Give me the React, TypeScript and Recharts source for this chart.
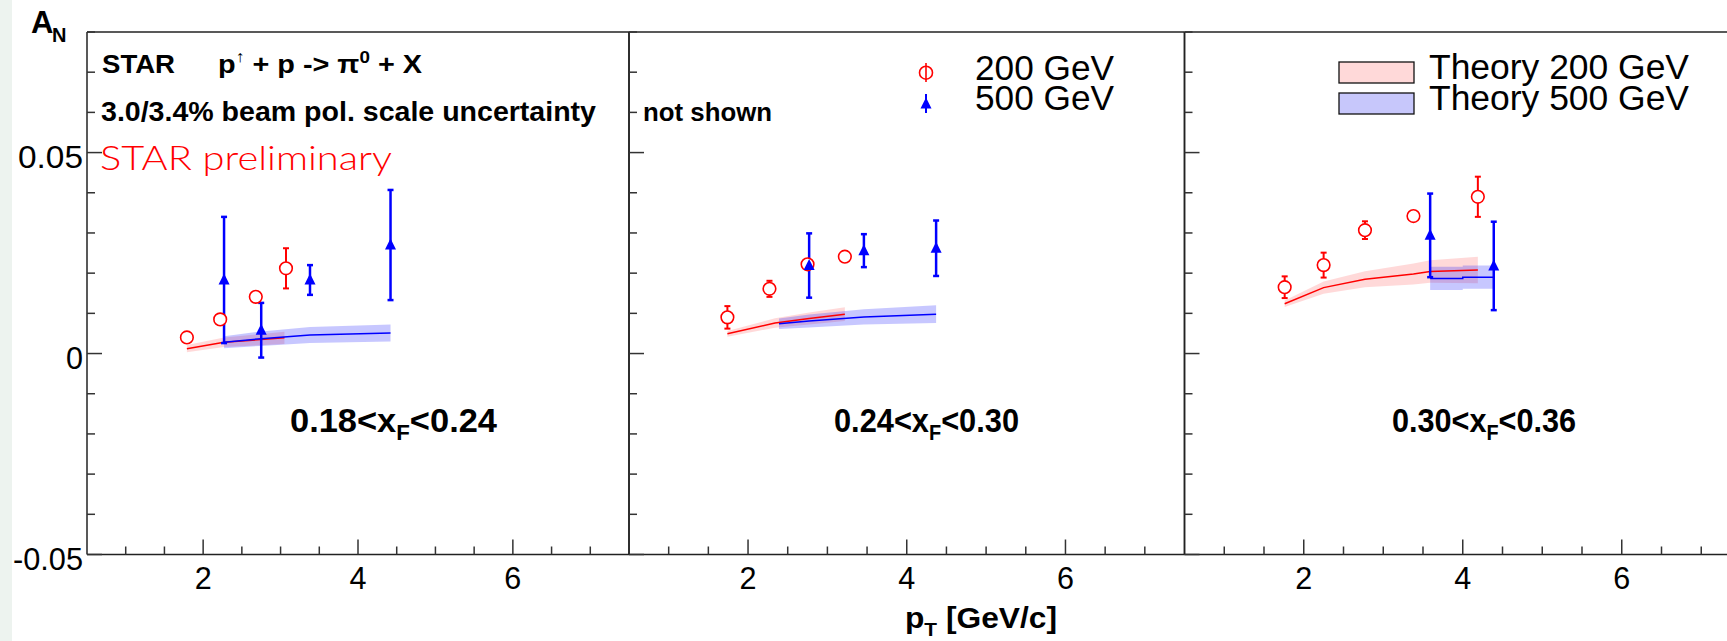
import React from 'react';
import {
  ComposedChart,
  Area,
  Line,
  Scatter,
  ErrorBar,
  XAxis,
  YAxis,
  ReferenceLine,
} from 'recharts';

const FONT = "'Liberation Sans', Arial, Helvetica, sans-serif";
const RED = '#ff0000';
const BLUE = '#0000ff';

// axis ticks
const X_TICKS = [1, 1.5, 2, 2.5, 3, 3.5, 4, 4.5, 5, 5.5, 6, 6.5, 7];
const X_LABELS = [2, 4, 6];
const Y_TICKS = [-0.05, -0.04, -0.03, -0.02, -0.01, 0, 0.01, 0.02, 0.03, 0.04, 0.05, 0.06, 0.07, 0.08];
const Y_LABELS = [-0.05, 0, 0.05];

// 0.18 < xF < 0.24
const P1_200_PT = [1.79, 2.22, 2.68, 3.07];
const P1_200_AN = [0.004, 0.0085, 0.0141, 0.0212];
const P1_200_ERR = [0.001, 0.001, 0.001, 0.005];
const P1_500_PT = [2.27, 2.75, 3.38, 4.42];
const P1_500_AN = [0.0183, 0.0058, 0.0183, 0.027];
const P1_500_ERR = [0.0157, 0.0068, 0.0037, 0.0137];
const P1_TH200_PT = [1.79, 2.27, 3.05];
const P1_TH200_AN = [0.0012, 0.0028, 0.0039];
const P1_TH200_BAND = [0.0009, 0.0012, 0.0015];
const P1_TH500_PT = [2.27, 2.75, 3.38, 4.42];
const P1_TH500_AN = [0.0028, 0.0037, 0.0046, 0.0051];
const P1_TH500_BAND = [0.0015, 0.0018, 0.002, 0.0021];

// 0.24 < xF < 0.30
const P2_200_PT = [1.74, 2.27, 2.75, 3.22];
const P2_200_AN = [0.009, 0.0161, 0.0222, 0.0241];
const P2_200_ERR = [0.0028, 0.002, 0.001, 0.001];
const P2_500_PT = [2.77, 3.46, 4.37];
const P2_500_AN = [0.0219, 0.0256, 0.0262];
const P2_500_ERR = [0.008, 0.0041, 0.0069];
const P2_TH200_PT = [1.74, 2.34, 2.77, 3.22];
const P2_TH200_AN = [0.0049, 0.0076, 0.0087, 0.0098];
const P2_TH200_BAND = [0.0007, 0.0012, 0.0015, 0.0017];
const P2_TH500_PT = [2.39, 2.77, 3.46, 4.37];
const P2_TH500_AN = [0.0074, 0.0081, 0.0091, 0.0098];
const P2_TH500_BAND = [0.0013, 0.0016, 0.0019, 0.0022];

// 0.30 < xF < 0.36
const P3_200_PT = [1.76, 2.25, 2.77, 3.38, 4.19];
const P3_200_AN = [0.0165, 0.022, 0.0307, 0.0342, 0.039];
const P3_200_ERR = [0.0027, 0.0031, 0.0022, 0.001, 0.005];
const P3_500_PT = [3.59, 4.39];
const P3_500_AN = [0.0294, 0.0218];
const P3_500_ERR = [0.0104, 0.011];
const P3_TH200_PT = [1.76, 2.25, 2.77, 3.38, 3.59, 4.19];
const P3_TH200_AN = [0.0124, 0.0164, 0.0185, 0.0198, 0.0204, 0.0208];
const P3_TH200_BAND = [0.0008, 0.0015, 0.002, 0.0026, 0.0028, 0.0033];
const P3_TH500_PT = [3.59, 4.0, 4.39];
const P3_TH500_AN = [0.0187, 0.019, 0.019];
const P3_TH500_BAND = [0.0029, 0.0029, 0.0029];

const points = (pt: number[], an: number[], err: number[]) =>
  pt.map((x, i) => ({ x, y: an[i], err: err[i] }));
const theory = (pt: number[], an: number[], half: number[]) =>
  pt.map((x, i) => ({ x, y: an[i], band: [an[i] - half[i], an[i] + half[i]] }));

const near = (list: number[], v: number) => list.some((m) => Math.abs(m - v) < 1e-6);

const XTick = (props: any) => {
  const { x, y, payload } = props;
  const major = near(X_LABELS, payload.value);
  return (
    <g>
      <line x1={x} x2={x} y1={y} y2={y - (major ? 15 : 8)} stroke="#333" strokeWidth={1.5} />
      {major && (
        <text
          x={x}
          y={y + 34}
          textAnchor="middle"
          fontSize={32}
          fontFamily={FONT}
          fill="#000"
          textLength={17}
          lengthAdjust="spacingAndGlyphs"
        >
          {payload.value}
        </text>
      )}
    </g>
  );
};

const makeYTick = (showLabels: boolean) => (props: any) => {
  const { x, y, payload } = props;
  const v = payload.value;
  const major = near(Y_LABELS, v);
  const label = Math.abs(v) < 1e-9 ? '0' : v.toFixed(2);
  const len = label === '0' ? 17 : label.startsWith('-') ? 70 : 65;
  return (
    <g>
      <line x1={x} x2={x + (major ? 15 : 8)} y1={y} y2={y} stroke="#333" strokeWidth={1.5} />
      {showLabels && major && (
        <text
          x={x - 4}
          y={y + 15}
          textAnchor="end"
          fontSize={32}
          fontFamily={FONT}
          fill="#000"
          textLength={len}
          lengthAdjust="spacingAndGlyphs"
        >
          {label}
        </text>
      )}
    </g>
  );
};

const OpenCircle = (p: any) => (
  <circle cx={p.cx} cy={p.cy} r={6.3} fill="#fff" stroke={RED} strokeWidth={1.6} />
);
const FullTriangle = (p: any) => (
  <polygon
    points={`${p.cx},${p.cy - 6.5} ${p.cx - 5.5},${p.cy + 4.5} ${p.cx + 5.5},${p.cy + 4.5}`}
    fill={BLUE}
  />
);

interface PanelProps {
  left: number;
  width: number;
  plotLeft: number;
  plotRight: number;
  yAxisWidth: number;
  showYLabels: boolean;
  d200: any[];
  d500: any[];
  th200: any[];
  th500: any[];
  step500?: boolean;
}

function Panel(p: PanelProps) {
  const curve500 = p.step500 ? 'stepAfter' : 'linear';
  return (
    <div style={{ position: 'absolute', left: p.left, top: 0 }}>
      <ComposedChart
        width={p.width}
        height={641}
        margin={{ top: 32, right: p.width - p.plotRight, bottom: 56.5, left: p.plotLeft - p.yAxisWidth }}
      >
        <XAxis
          type="number"
          dataKey="x"
          domain={[0.5, 7.5]}
          allowDataOverflow
          ticks={X_TICKS}
          interval={0}
          height={30}
          tickSize={0}
          tickMargin={0}
          tickLine={false}
          axisLine={{ stroke: '#222', strokeWidth: 1.5 }}
          tick={XTick}
        />
        <YAxis
          type="number"
          dataKey="y"
          domain={[-0.05, 0.08]}
          allowDataOverflow
          ticks={Y_TICKS}
          interval={0}
          width={p.yAxisWidth}
          tickSize={0}
          tickMargin={0}
          tickLine={false}
          axisLine={{ stroke: '#222', strokeWidth: 1.5 }}
          tick={makeYTick(p.showYLabels)}
        />
        <ReferenceLine y={0.08} stroke="#222" strokeWidth={1.5} />
        <ReferenceLine x={7.5} stroke="#222" strokeWidth={1.5} />

        <Area
          data={p.th200}
          dataKey="band"
          type="linear"
          stroke="none"
          fill={RED}
          fillOpacity={0.15}
          isAnimationActive={false}
        />
        <Area
          data={p.th500}
          dataKey="band"
          type={curve500}
          stroke="none"
          fill={BLUE}
          fillOpacity={0.22}
          isAnimationActive={false}
        />
        <Line
          data={p.th200}
          dataKey="y"
          type="linear"
          stroke={RED}
          strokeWidth={1.5}
          dot={false}
          isAnimationActive={false}
        />
        <Line
          data={p.th500}
          dataKey="y"
          type={curve500}
          stroke={BLUE}
          strokeWidth={1.5}
          dot={false}
          isAnimationActive={false}
        />

        <Scatter data={p.d200} dataKey="y" shape={OpenCircle} isAnimationActive={false}>
          <ErrorBar dataKey="err" direction="y" width={3} strokeWidth={2} stroke={RED} />
        </Scatter>
        <Scatter data={p.d500} dataKey="y" shape={FullTriangle} isAnimationActive={false}>
          <ErrorBar dataKey="err" direction="y" width={3} strokeWidth={2.5} stroke={BLUE} />
        </Scatter>
      </ComposedChart>
    </div>
  );
}

function BinLabel({ x, lo, hi, width }: { x: number; lo: string; hi: string; width: number }) {
  return (
    <text
      x={x}
      y={432}
      fontSize={34}
      fontWeight="bold"
      fontFamily={FONT}
      textLength={width}
      lengthAdjust="spacingAndGlyphs"
    >
      {lo}&lt;x
      <tspan dy={8} fontSize={22}>F</tspan>
      <tspan dy={-8}>&lt;{hi}</tspan>
    </text>
  );
}

export default function App() {
  return (
    <div
      style={{
        position: 'absolute',
        left: 0,
        top: 0,
        width: 1727,
        height: 641,
        overflow: 'hidden',
        background: '#fff',
      }}
    >
      <div style={{ position: 'absolute', left: 0, top: 0, width: 12, height: 641, background: '#edf3ef' }} />

      <Panel
        left={0}
        width={640}
        plotLeft={87}
        plotRight={629}
        yAxisWidth={70}
        showYLabels
        d200={points(P1_200_PT, P1_200_AN, P1_200_ERR)}
        d500={points(P1_500_PT, P1_500_AN, P1_500_ERR)}
        th200={theory(P1_TH200_PT, P1_TH200_AN, P1_TH200_BAND)}
        th500={theory(P1_TH500_PT, P1_TH500_AN, P1_TH500_BAND)}
      />
      <Panel
        left={600}
        width={600}
        plotLeft={29}
        plotRight={584.5}
        yAxisWidth={20}
        showYLabels={false}
        d200={points(P2_200_PT, P2_200_AN, P2_200_ERR)}
        d500={points(P2_500_PT, P2_500_AN, P2_500_ERR)}
        th200={theory(P2_TH200_PT, P2_TH200_AN, P2_TH200_BAND)}
        th500={theory(P2_TH500_PT, P2_TH500_AN, P2_TH500_BAND)}
      />
      <Panel
        left={1160}
        width={600}
        plotLeft={24.5}
        plotRight={581}
        yAxisWidth={20}
        showYLabels={false}
        d200={points(P3_200_PT, P3_200_AN, P3_200_ERR)}
        d500={points(P3_500_PT, P3_500_AN, P3_500_ERR)}
        th200={theory(P3_TH200_PT, P3_TH200_AN, P3_TH200_BAND)}
        th500={theory(P3_TH500_PT, P3_TH500_AN, P3_TH500_BAND)}
        step500
      />

      {/* labels, legends and annotations */}
      <svg
        width={1727}
        height={641}
        style={{ position: 'absolute', left: 0, top: 0, pointerEvents: 'none' }}
        fontFamily={FONT}
      >
        <text x={31} y={33} fontSize={31} fontWeight="bold">A</text>
        <text x={52} y={42} fontSize={20} fontWeight="bold">N</text>

        <text x={102} y={73} fontSize={26} fontWeight="bold" textLength={73} lengthAdjust="spacingAndGlyphs">
          STAR
        </text>
        <text x={218} y={73} fontSize={26} fontWeight="bold" textLength={204} lengthAdjust="spacingAndGlyphs">
          p<tspan dy={-11} fontSize={16}>↑</tspan>
          <tspan dy={11}> + p -&gt; π</tspan>
          <tspan dy={-10} fontSize={17}>0</tspan>
          <tspan dy={10}> + X</tspan>
        </text>
        <text x={101} y={121} fontSize={27} fontWeight="bold" textLength={495} lengthAdjust="spacingAndGlyphs">
          3.0/3.4% beam pol. scale uncertainty
        </text>
        <text
          x={100}
          y={170}
          fontSize={34}
          fill={RED}
          fontFamily="Lato, 'Open Sans', sans-serif"
          fontWeight={300}
          textLength={292}
          lengthAdjust="spacingAndGlyphs"
        >
          STAR preliminary
        </text>
        <text x={643} y={121} fontSize={26} fontWeight="bold" textLength={129} lengthAdjust="spacingAndGlyphs">
          not shown
        </text>

        {/* data legend */}
        <line x1={926} x2={926} y1={63} y2={82} stroke={RED} strokeWidth={1.6} />
        <circle cx={926} cy={72.7} r={6.5} fill="none" stroke={RED} strokeWidth={1.6} />
        <line x1={926} x2={926} y1={94} y2={113} stroke={BLUE} strokeWidth={2} />
        <polygon points="926,97.5 920.5,108.5 931.5,108.5" fill={BLUE} />
        <text x={975} y={80} fontSize={35} textLength={139} lengthAdjust="spacingAndGlyphs">200 GeV</text>
        <text x={975} y={110} fontSize={35} textLength={139} lengthAdjust="spacingAndGlyphs">500 GeV</text>

        {/* theory legend */}
        <rect x={1339} y={62} width={75} height={21} fill="#ffd9d9" stroke="#111" strokeWidth={1.3} />
        <rect x={1339} y={93} width={75} height={21} fill="#c7c7fb" stroke="#111" strokeWidth={1.3} />
        <text x={1429} y={79} fontSize={35} textLength={260} lengthAdjust="spacingAndGlyphs">Theory 200 GeV</text>
        <text x={1429} y={110} fontSize={35} textLength={260} lengthAdjust="spacingAndGlyphs">Theory 500 GeV</text>

        <BinLabel x={290} lo="0.18" hi="0.24" width={207} />
        <BinLabel x={834} lo="0.24" hi="0.30" width={185} />
        <BinLabel x={1392} lo="0.30" hi="0.36" width={184} />

        <text x={905} y={628} fontSize={29} fontWeight="bold" textLength={152} lengthAdjust="spacingAndGlyphs">
          p<tspan dy={8} fontSize={19}>T</tspan>
          <tspan dy={-8}> [GeV/c]</tspan>
        </text>
      </svg>
    </div>
  );
}
